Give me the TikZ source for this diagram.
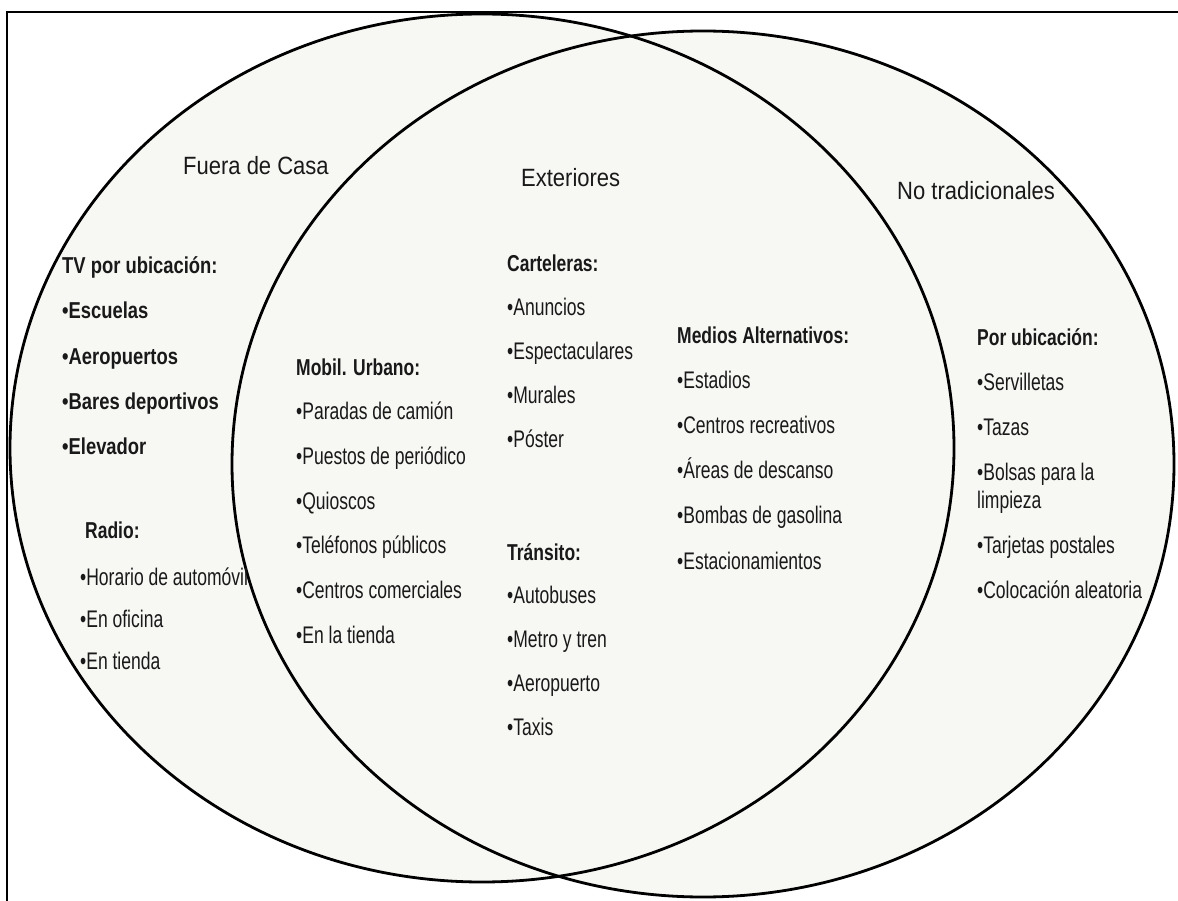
\documentclass[tikz,border=0pt]{standalone}
\usepackage{fontspec}
\setmainfont{Liberation Sans}
\newfontfamily\titlefont[FakeStretch=0.88]{Liberation Sans}
\newfontfamily\itemfont[FakeStretch=0.73]{Liberation Sans}
\newfontfamily\headfont[FakeStretch=0.76]{Liberation Sans Bold}
\newfontfamily\tvfont[FakeStretch=0.8]{Liberation Sans Bold}
\definecolor{setfill}{RGB}{247,247,244}
\definecolor{ink}{RGB}{25,25,25}
\tikzset{
  settitle/.style={anchor=base west, inner sep=0pt, text=ink, font=\titlefont\fontsize{25}{30}\selectfont},
  grouphead/.style={anchor=base west, inner sep=0pt, text=ink, font=\headfont\fontsize{23}{27}\selectfont},
  listitem/.style={anchor=base west, inner sep=0pt, text=ink, font=\itemfont\fontsize{24}{28}\selectfont},
  tvtext/.style={anchor=base west, inner sep=0pt, text=ink, font=\tvfont\fontsize{23}{27}\selectfont},
  setline/.style={line width=2.8pt, draw=black}
}
\begin{document}
\begin{tikzpicture}[x=1pt, y=-1pt]
\useasboundingbox (0,0) rectangle (1178,901);
\begin{scope}
  \clip (0,0) rectangle (1178,901);
  % outer frame (open towards the right and bottom edges)
  \draw[line width=1.6pt] (7,12) rectangle (1200,920);
\end{scope}

% the two overlapping sets
\fill[setfill] (482,448) ellipse [x radius=472, y radius=434];
\fill[setfill] (703,464) ellipse [x radius=471, y radius=433];
\draw[setline] (482,448) ellipse [x radius=472, y radius=434];
\draw[setline] (703,464) ellipse [x radius=471, y radius=433];

% set titles
\node[settitle] (fuera) at (183,175) {Fuera de Casa};
\node[settitle] (ext) at (521,187) {Exteriores};
\node[settitle] (notrad) at (897,200) {No tradicionales};

% TV por ubicacion
\node[tvtext] (tv) at (62,274) {TV por ubicación:};
\foreach \t [count=\i] in {Escuelas, Aeropuertos, Bares deportivos, Elevador}
  \node[tvtext] (tv-\i) at (62,274+45*\i) {•\t};

% Radio
\node[grouphead] (radio) at (85,538) {Radio:};
\foreach \t [count=\i] in {Horario de automóvil, En oficina, En tienda}
  \node[listitem] (radio-\i) at (80,543+42*\i) {•\t};

% Mobil. Urbano
\node[grouphead] (mob) at (296,375) {Mobil. Urbano:};
\foreach \t [count=\i] in {Paradas de camión, Puestos de periódico, Quioscos, Teléfonos públicos, Centros comerciales, En la tienda}
  \node[listitem] (mob-\i) at (296,375+44.7*\i) {•\t};

% Carteleras
\node[grouphead] (cart) at (507,272) {Carteleras:};
\foreach \t [count=\i] in {Anuncios, Espectaculares, Murales, Póster}
  \node[listitem] (cart-\i) at (507,271+44.2*\i) {•\t};

% Transito
\node[grouphead] (trans) at (507,560) {Tránsito:};
\foreach \t [count=\i] in {Autobuses, Metro y tren, Aeropuerto, Taxis}
  \node[listitem] (trans-\i) at (507,559+44.2*\i) {•\t};

% Medios Alternativos
\node[grouphead] (medios) at (677,343) {Medios Alternativos:};
\foreach \t [count=\i] in {Estadios, Centros recreativos, Áreas de descanso, Bombas de gasolina, Estacionamientos}
  \node[listitem] (medios-\i) at (677,343+45.2*\i) {•\t};

% Por ubicacion
\node[grouphead] (por) at (977,345) {Por ubicación:};
\node[listitem] (por-1) at (977,390) {•Servilletas};
\node[listitem] (por-2) at (977,435) {•Tazas};
\node[listitem] (por-3) at (977,480) {•Bolsas para la};
\node[listitem] (por-3b) at (977,508) {limpieza};
\node[listitem] (por-4) at (977,553) {•Tarjetas postales};
\node[listitem] (por-5) at (977,598) {•Colocación aleatoria};
\end{tikzpicture}
\end{document}
